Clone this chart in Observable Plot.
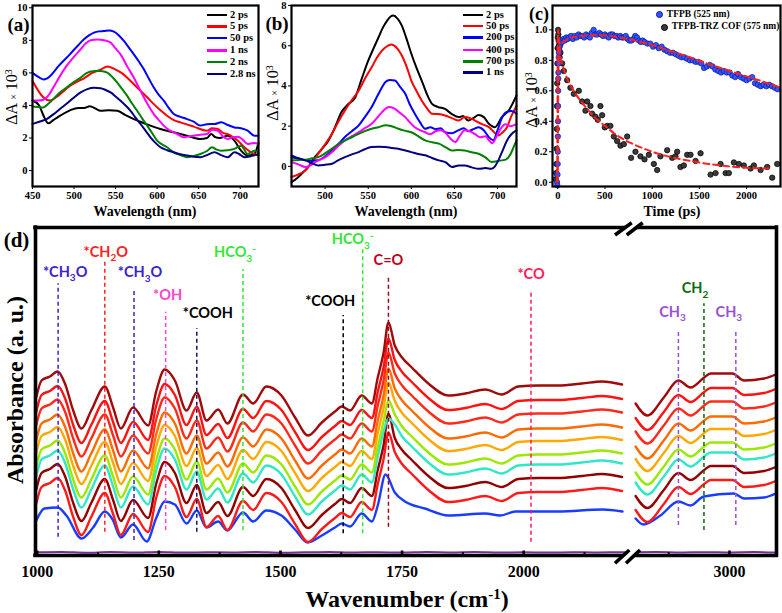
<!DOCTYPE html>
<html><head><meta charset="utf-8">
<script src="https://cdn.jsdelivr.net/npm/d3@7"></script>
<script src="https://cdn.jsdelivr.net/npm/@observablehq/plot@0.6"></script>
<style>
body{margin:0;background:#fff;}
#root{position:relative;width:782px;height:613px;overflow:hidden;background:#fff;font-family:"Liberation Serif",serif;}
.leg{position:absolute;font:bold 10.5px "Liberation Serif";white-space:nowrap;line-height:1;display:flex;align-items:center;}
.leg i{display:inline-block;width:20px;height:2.4px;margin-right:3px;}
.legc{position:absolute;font:bold 9.5px "Liberation Serif";white-space:nowrap;line-height:1;display:flex;align-items:center;}
.legc i{display:inline-block;width:5px;height:5px;border-radius:50%;margin-right:4px;}
sup{font-size:0.62em;vertical-align:0;position:relative;top:-0.55em;}
</style>
</head><body><div id="root"></div>
<script>
// ---------- Panel (a) data: [wavelength nm, ΔA×10^3]
const aNames = ["2 ps","5 ps","50 ps","1 ns","2 ns","2.8 ns"];
const aColors = ["#000000","#ff0000","#0000ff","#ff00ff","#008000","#000080"];
const a2ps = [[450,4.3],[458,4.0],[463,3.4],[469,2.9],[475,3.1],[481,3.3],[495,3.7],[505,3.85],[512,3.84],[519,3.95],[526,3.8],[532,3.67],[542,3.7],[552,3.67],[562,3.4],[572,3.16],[582,2.95],[592,2.76],[604,2.55],[620,2.35],[636,2.14],[652,1.94],[660,2.0],[665,2.24],[670,2.05],[675,2.0],[685,2.14],[693,1.84],[701,1.22],[709,0.92],[717,1.02],[722,1.7]];
const a5ps = [[450,5.5],[457,4.9],[463,4.5],[471,4.3],[481,4.6],[495,5.2],[505,5.5],[512,5.67],[522,6.0],[532,6.2],[540,6.4],[550,6.2],[557,6.0],[564,5.7],[572,5.3],[580,4.9],[588,4.5],[596,4.08],[604,3.7],[612,3.37],[620,3.1],[628,2.96],[644,2.7],[660,2.45],[666,2.6],[673,2.55],[680,2.3],[685,2.24],[697,1.84],[705,1.43],[713,1.12],[722,0.92]];
const a50ps = [[450,6.0],[457,5.75],[463,5.6],[467,5.65],[471,5.8],[481,6.4],[495,7.14],[505,7.7],[512,8.06],[518,8.3],[524,8.47],[530,8.55],[536,8.57],[542,8.6],[548,8.53],[554,8.3],[560,7.96],[566,7.55],[572,7.14],[578,6.7],[584,6.22],[590,5.65],[596,5.1],[602,4.65],[608,4.29],[614,3.85],[620,3.47],[628,3.3],[636,3.16],[644,3.0],[652,2.76],[660,2.85],[669,2.86],[677,2.96],[685,2.8],[693,2.65],[701,2.6],[709,2.45],[717,2.14],[722,2.14]];
const a1ns = [[450,4.3],[457,4.3],[463,4.35],[469,4.6],[475,5.1],[483,5.8],[491,6.43],[500,7.0],[508,7.45],[514,7.8],[520,8.0],[528,8.05],[536,8.0],[544,7.86],[550,7.5],[556,7.14],[564,6.4],[572,5.7],[578,5.1],[584,4.5],[590,3.95],[596,3.47],[602,3.1],[608,2.76],[614,2.5],[620,2.35],[626,2.2],[632,2.04],[638,2.1],[644,2.14],[652,2.2],[660,2.24],[666,2.5],[673,2.45],[679,2.1],[685,1.94],[691,2.05],[697,2.08],[703,1.9],[709,1.63],[716,1.7],[722,1.63]];
const a2ns = [[450,3.92],[457,3.9],[463,3.88],[469,4.1],[475,4.39],[483,4.8],[491,5.1],[500,5.45],[508,5.71],[514,5.95],[520,6.08],[526,6.12],[532,6.12],[540,6.02],[546,5.75],[552,5.4],[558,5.0],[564,4.59],[570,4.1],[576,3.67],[582,3.2],[588,2.76],[594,2.3],[600,1.84],[606,1.6],[612,1.43],[620,1.12],[628,0.95],[636,0.82],[644,0.9],[652,1.02],[660,1.2],[666,1.43],[671,1.3],[677,1.22],[685,1.25],[693,1.33],[701,1.53],[709,1.02],[717,1.22],[722,1.12]];
const a28ns = [[450,2.86],[458,3.0],[467,3.16],[475,3.45],[483,3.78],[491,4.1],[500,4.49],[508,4.8],[516,5.0],[524,5.08],[532,5.06],[538,4.95],[544,4.8],[550,4.55],[556,4.29],[562,4.0],[568,3.67],[574,3.25],[580,2.86],[586,2.45],[592,2.04],[598,1.7],[604,1.43],[612,1.25],[620,1.12],[628,1.0],[636,0.92],[644,0.85],[652,0.82],[660,0.95],[669,1.12],[677,0.95],[685,0.82],[693,1.12],[699,1.0],[705,0.82],[714,0.9],[722,1.02]];
const aXTicks = [450,500,550,600,650,700];
const aYTicks = [0,2,4,6,8,10];

// ---------- Panel (b) data
const bNames = ["2 ps","50 ps","200 ps","400 ps","700 ps","1 ns"];
const bColors = ["#000000","#ff0000","#0000ff","#ff00ff","#008000","#000080"];
const b2ps = [[461,-0.78],[467,-0.6],[473,-0.36],[480,-0.05],[488,0.46],[496,0.85],[504,1.29],[511,1.9],[519,2.7],[527,3.1],[535,3.44],[542,4.3],[550,5.26],[556,5.85],[562,6.42],[567,6.9],[572,7.25],[576,7.45],[579,7.5],[584,7.35],[589,7.0],[594,6.4],[600,5.6],[606,4.9],[612,4.27],[618,3.6],[624,3.11],[631,2.95],[639,2.86],[647,2.6],[655,2.45],[660,2.5],[666,2.28],[672,2.4],[678,2.55],[684,2.45],[690,2.12],[697,1.95],[705,2.45],[713,2.78],[722,3.53]];
const b50ps = [[461,-0.53],[469,-0.4],[477,-0.2],[485,0.2],[492,0.63],[500,1.1],[508,1.62],[515,2.2],[523,2.78],[531,3.3],[539,3.77],[546,4.35],[554,4.93],[560,5.4],[566,5.76],[571,5.95],[577,6.06],[583,5.9],[589,5.51],[595,4.9],[600,4.27],[606,3.75],[612,3.28],[618,2.9],[624,2.62],[631,2.6],[639,2.53],[647,2.4],[655,2.28],[662,2.45],[668,2.4],[674,2.28],[682,2.1],[690,1.95],[696,1.7],[701,1.54],[706,1.7],[711,1.95],[716,2.5],[722,3.0]];
const b200ps = [[461,0.55],[469,0.4],[477,0.3],[485,0.28],[492,0.3],[500,0.5],[508,0.8],[515,1.1],[523,1.46],[531,1.75],[539,2.04],[546,2.45],[554,2.95],[560,3.45],[566,3.94],[570,4.2],[575,4.3],[581,4.27],[587,3.95],[593,3.61],[598,3.1],[604,2.62],[610,2.2],[616,1.87],[622,1.95],[628,1.85],[634,1.9],[639,1.7],[647,1.65],[655,1.8],[661,1.9],[666,1.75],[672,1.85],[678,1.95],[684,1.8],[690,1.45],[695,1.3],[700,1.8],[705,2.4],[710,2.7],[716,2.75],[722,2.62]];
const b400ps = [[461,0.21],[469,0.1],[477,-0.03],[485,0.1],[492,0.3],[500,0.45],[508,0.71],[515,1.0],[523,1.29],[531,1.5],[539,1.7],[546,1.9],[554,2.12],[560,2.4],[566,2.7],[571,2.9],[575,2.95],[581,2.86],[587,2.65],[593,2.45],[598,2.2],[604,1.95],[610,1.8],[616,1.7],[622,1.6],[628,1.75],[634,1.8],[639,1.7],[645,1.4],[651,1.21],[656,1.5],[662,1.8],[668,1.75],[674,1.6],[680,1.45],[686,1.5],[690,1.3],[694,1.15],[699,1.5],[704,1.9],[709,2.1],[715,2.0],[722,2.1]];
const b700ps = [[461,0.3],[469,0.32],[477,0.33],[485,0.4],[492,0.46],[500,0.65],[508,0.88],[515,1.1],[523,1.29],[531,1.45],[539,1.62],[546,1.75],[554,1.87],[562,1.95],[570,2.04],[577,2.0],[585,1.87],[592,1.78],[600,1.7],[608,1.5],[616,1.29],[624,1.2],[632,1.13],[640,0.95],[647,0.79],[655,0.82],[662,0.79],[670,0.7],[678,0.63],[686,0.45],[693,0.22],[699,0.25],[705,0.3],[710,0.35],[715,0.6],[719,1.0],[722,1.29]];
const b1ns = [[461,0.46],[469,0.4],[477,0.3],[485,0.15],[492,0.05],[500,0.08],[508,0.13],[515,0.3],[523,0.46],[531,0.6],[539,0.71],[546,0.85],[554,0.96],[562,0.98],[570,0.96],[577,0.92],[585,0.88],[592,0.8],[600,0.71],[608,0.62],[616,0.55],[624,0.42],[632,0.3],[640,0.2],[647,-0.03],[655,0.05],[662,0.05],[670,-0.05],[678,-0.12],[686,-0.08],[693,-0.12],[697,0.0],[701,0.3],[706,0.8],[711,1.29],[716,1.6],[722,1.79]];
const bXTicks = [500,550,600,650,700];
const bYTicks = [0,2,4,6,8];

// ---------- Panel (c) data: [time ps, ΔA]
const cBlue = [[-8,0],[-5,-0.02],[-3,0.05],[-1,0.12],[0,0.2],[1,0.3],[2,0.4],[3,0.5],[4,0.6],[5,0.68],[6,0.72],[8,0.78],[10,0.82],[12,0.85],[15,0.87],[20,0.89],[25,0.9],[30,0.91],[40,0.92],[50,0.93],[60,0.94],[75,0.93],[90,0.95],[105,0.94],[120,0.95],[140,0.96],[160,0.94],[180,0.96],[200,0.95],[220,0.97],[240,0.96],[260,0.96],[280,0.95],[300,0.97],[320,0.96],[340,0.95],[360,0.98],[380,1.0],[400,0.97],[420,0.97],[440,0.98],[460,0.97],[480,0.96],[500,0.97],[520,0.96],[540,0.95],[560,0.97],[580,0.97],[600,0.96],[620,0.96],[640,0.95],[660,0.96],[680,0.95],[700,0.95],[720,0.96],[740,0.94],[760,0.93],[780,0.93],[800,0.94],[820,0.96],[840,0.95],[860,0.93],[880,0.92],[900,0.93],[920,0.92],[950,0.91],[980,0.91],[1010,0.89],[1040,0.9],[1070,0.88],[1100,0.89],[1130,0.87],[1160,0.86],[1190,0.85],[1220,0.85],[1250,0.84],[1280,0.83],[1310,0.82],[1340,0.82],[1370,0.81],[1400,0.8],[1430,0.8],[1460,0.79],[1490,0.79],[1520,0.78],[1550,0.75],[1580,0.76],[1610,0.77],[1640,0.76],[1670,0.74],[1700,0.73],[1730,0.72],[1760,0.73],[1790,0.72],[1820,0.72],[1850,0.7],[1880,0.69],[1910,0.71],[1940,0.69],[1970,0.68],[2000,0.67],[2030,0.68],[2060,0.69],[2090,0.65],[2120,0.64],[2150,0.63],[2180,0.64],[2210,0.63],[2240,0.64],[2270,0.63],[2300,0.62],[2330,0.61]];
const cBlack = [[-22,0.02],[-18,0.06],[-15,0.12],[-12,0.22],[-10,0.35],[-8,0.5],[-6,0.65],[-4,0.78],[-2,0.88],[0,0.95],[3,1.0],[6,0.97],[9,0.93],[12,0.9],[16,0.86],[20,0.82],[28,0.85],[46,0.78],[64,0.73],[99,0.67],[134,0.62],[170,0.58],[223,0.6],[258,0.53],[293,0.47],[311,0.53],[346,0.5],[364,0.45],[399,0.43],[424,0.41],[452,0.5],[470,0.44],[498,0.36],[523,0.37],[558,0.37],[594,0.3],[629,0.27],[664,0.24],[700,0.25],[735,0.3],[777,0.16],[823,0.2],[876,0.17],[919,0.15],[965,0.18],[1018,0.12],[1053,0.08],[1088,0.17],[1159,0.21],[1212,0.16],[1247,0.17],[1265,0.2],[1300,0.1],[1336,0.11],[1371,0.18],[1407,0.18],[1460,0.14],[1513,0.19],[1619,0.05],[1672,0.06],[1725,0.12],[1778,0.06],[1813,0.06],[1866,0.13],[1919,0.12],[1972,0.11],[2043,0.09],[2078,0.11],[2149,0.08],[2219,0.1],[2272,0.03],[2325,0.12]];
const cFitBlueT = [-6,0,3,6,10,20,40,80,150,250,400,550,700,850,1000,1200,1400,1600,1800,2000,2200,2340];
const cFitBlueV = [0,0.1,0.45,0.7,0.82,0.88,0.91,0.93,0.95,0.96,0.965,0.96,0.945,0.925,0.9,0.86,0.82,0.775,0.735,0.695,0.655,0.625];
const cFitBlackT = [-6,-3,0,5,15,30,60,100,150,200,300,400,500,600,700,800,1000,1200,1400,1600,1800,2000,2250];
const cFitBlackV = [0,0.5,0.95,1.0,0.9,0.82,0.75,0.68,0.62,0.57,0.49,0.42,0.37,0.32,0.28,0.25,0.2,0.165,0.14,0.12,0.105,0.095,0.09];
const cXTicks = [0,500,1000,1500,2000];
const cYTicks = [0,0.2,0.4,0.6,0.8,1.0];

// ---------- Panel (d) data: wavenumber (cm-1), absorbance (a.u.)
const dWn  = [998,1009,1026,1042,1057,1074,1091,1111,1139,1156,1172,1197,1228,1245,1262,1283,1307,1328,1348,1372,1391,1423,1444,1471,1502,1530,1557,1585,1612,1626,1643,1667,1688,1700,1712,1722,1735,1750,1770,1804,1845,1880,1921,1955,1989,2030,2071,2120,2161,2202];
const dTop = [160,177,181,186,174,147,129,147,171,150,129,150,132,167,188,177,147,165,137,148,134,163,154,171,162,140,122,135,146,151,147,162,154,180,205,235,212,200,190,174,162,164,168,163,171,172,172,174,176,173];
const dRWn  = [2807,2831,2865,2895,2920,2948,2961,3006,3030,3071,3095];
const dRTop = [154,142,160,177,170,180,184,184,177,179,183];
const dOffset = [0,14.5,28,43,55.5,69,79,92.5,106.5];
const dCoPeak = [235,219,205,189,175,157,139,144,125];
const dColors = ["#a00a0a","#ff1212","#ff2a1a","#ff6a00","#ffa800","#9be800","#30e8c8","#940000","#ff1a1a"];
const dBlueL = [[998,37],[1015,49],[1042,50],[1060,42],[1091,19],[1115,30],[1139,46],[1155,38],[1172,20],[1197,33],[1225,16],[1245,40],[1262,56],[1283,53],[1307,34],[1328,47],[1348,30],[1372,36],[1391,27],[1423,45],[1444,36],[1471,47],[1502,42],[1530,28],[1556,15],[1585,22],[1612,30],[1626,34],[1643,31],[1667,44],[1688,36],[1700,52],[1716,83],[1735,65],[1756,56],[1797,49],[1845,42],[1921,44],[1952,42],[1983,46],[2071,46],[2162,48],[2203,46]];
const dBlueR = [[2807,39],[2823,33],[2858,42],[2895,56],[2920,52],[2947,61],[3009,64],[3030,59],[3071,60],[3095,64]];
const dBlueColor = "#1a3cff";
const dPurpleL = [[998,5.2],[1050,5.6],[1100,4.8],[1150,5.4],[1200,5.0],[1250,5.6],[1300,4.9],[1350,5.3],[1400,5.1],[1450,5.5],[1500,4.8],[1550,5.2],[1600,5.6],[1650,5.0],[1700,5.3],[1750,4.9],[1800,5.4],[1850,5.1],[1900,5.5],[1950,5.0],[2000,5.2],[2050,4.9],[2100,5.3],[2150,5.1],[2215,5.2]];
const dPurpleR = [[2793,5.1],[2850,5.4],[2900,5.0],[2950,5.3],[3000,5.1],[3050,5.4],[3097,5.0]];
const dMajorL = [1000,1250,1500,1750,2000];
const dMinorL = [1125,1375,1625,1875,2125];
const dMajorR = [3000];
const dMinorR = [2875];
const annText  = ["*CH_3O","*CH_2O","*CH_3O","*OH","*COOH","HCO_3^-","*COOH","HCO_3^-","C=O","*CO"];
const annWn    = [1043,1139,1199,1264,1328,1423,1629,1669,1722,2015];
const annTop   = [273.7,295.3,269,245.3,229,288,242,309,282,267];
const annBot   = [20.3,25.3,17,27,25.3,27,23.7,23.7,30.3,15.3];
const annLabY  = [285.3,305.3,285,262,244,305,256,317.7,297,282.7];
const annDx    = [7,1,6,2,11,-8,-13,-10,0,0];
const annColor = ["#3b22cc","#ff2020","#3b22cc","#ff44cc","#000000","#33e633","#000000","#33e633","#c0001a","#ff1a5e"];
const annLine  = ["#3b22cc","#ff2020","#3b22cc","#ff44cc","#14145a","#33e633","#000000","#33e633","#a0001a","#ff1a5e"];
const annRText  = ["CH_3","CH_2","CH_3"];
const annRWn    = [2895,2947.5,3013];
const annRTop   = [227,253.7,227];
const annRBot   = [32,27,32];
const annRLabY  = [245.3,268.7,245.3];
const annRDx    = [-6,-9,-7];
const annRColor = ["#9b4fd6","#0b6b0b","#9b4fd6"];

// ---------- helpers
const root = document.getElementById("root");
function put(el, x, y){ el.style.position="absolute"; el.style.left=x+"px"; el.style.top=y+"px"; root.appendChild(el); return el; }
function label(html, cx, cy, css, rot){
  const d=document.createElement("div"); d.innerHTML=html;
  d.style.cssText=`position:absolute;left:${cx}px;top:${cy}px;white-space:nowrap;line-height:1;transform:translate(-50%,-50%)${rot?" rotate(-90deg)":""};${css}`;
  root.appendChild(d);
}
const smallStyle = {fontFamily:"Liberation Serif", fontWeight:"bold", fontSize:"10.5px", background:"transparent", overflow:"visible", color:"#000"};

function spectrumPanel(series, colors, xd, yd, xt, yt, ml, mr, yfmt){
  return Plot.plot({
    width:262, height:220, marginLeft:ml, marginRight:mr, marginTop:5, marginBottom:34,
    x:{domain:xd}, y:{domain:yd},
    style: smallStyle,
    marks:[
      ...series.map((s,i)=>Plot.line(s,{x:d=>d[0], y:d=>d[1], stroke:colors[i], strokeWidth:2, curve:"monotone-x"})),
      Plot.frame({stroke:"#000", strokeWidth:2.2}),
      Plot.axisX({ticks:xt, tickSize:3, tickPadding:2, label:null}),
      Plot.axisY({ticks:yt, tickSize:3, tickPadding:2, label:null, tickFormat:yfmt})
    ]
  });
}

// Panel a
put(spectrumPanel([a2ps,a5ps,a50ps,a1ns,a2ns,a28ns], aColors, [450,722], [-0.98,10.14], aXTicks, aYTicks, 32, 4), 0, 0);
// Panel b
put(spectrumPanel([b2ps,b50ps,b200ps,b400ps,b700ps,b1ns], bColors, [461,722], [-1,8], bXTicks, bYTicks, 33, 4), 258, 0);
// Panel c
const pc = Plot.plot({
  width:262, height:220, marginLeft:32, marginRight:2, marginTop:5, marginBottom:34,
  x:{domain:[-56,2360]}, y:{domain:[-0.028,1.16]},
  style: smallStyle,
  marks:[
    Plot.dot(cBlack,{x:d=>d[0], y:d=>d[1], r:2.7, fill:"#3a3a3a", stroke:"#000", strokeWidth:0.7}),
    Plot.dot(cBlue,{x:d=>d[0], y:d=>d[1], r:2.7, fill:"#3355ff", stroke:"#0a1a9a", strokeWidth:0.7}),
    Plot.line(cFitBlackT.map((t,i)=>[t,cFitBlackV[i]]),{x:d=>d[0], y:d=>d[1], stroke:"#ff2020", strokeWidth:2, strokeDasharray:"6,4", curve:"monotone-x"}),
    Plot.line(cFitBlueT.map((t,i)=>[t,cFitBlueV[i]]),{x:d=>d[0], y:d=>d[1], stroke:"#ff2020", strokeWidth:2, strokeDasharray:"6,4", curve:"monotone-x"}),
    Plot.frame({stroke:"#000", strokeWidth:2.2}),
    Plot.axisX({ticks:cXTicks, tickSize:3, tickPadding:2, label:null, tickFormat:d3.format("d")}),
    Plot.axisY({ticks:cYTicks, tickSize:3, tickPadding:2, label:null, tickFormat:d3.format(".1f")})
  ]
});
put(pc, 520, 0);

// Panel d (broken axis: two plots)
const dStyle = {fontFamily:"Liberation Serif", fontWeight:"bold", fontSize:"16px", background:"transparent", overflow:"visible", color:"#000"};
function annMarks(texts, wns, tops, bots, labYs, dxs, colors, lineColors){
  const m=[];
  texts.forEach((t,i)=>{
    m.push(Plot.ruleX([wns[i]],{x:d=>d, y1:bots[i], y2:tops[i], stroke:lineColors[i], strokeWidth:1.5, strokeDasharray:"4,3"}));
    m.push(Plot.text([t],{x:()=>wns[i], y:()=>labYs[i], text:d=>d, dx:dxs[i], fill:colors[i], fontFamily:"Lato", fontWeight:"bold", fontSize:14.5, className:"ann"}));
  });
  return m;
}
function curvesL(){
  const m=[Plot.line(dBlueL,{x:d=>d[0], y:d=>d[1], stroke:dBlueColor, strokeWidth:2.4, curve:"monotone-x"})];
  for(let i=dOffset.length-1;i>=0;i--){
    const pts = dWn.map((w,k)=>[w, k===35 ? dCoPeak[i] : dTop[k]-dOffset[i]]);
    m.push(Plot.line(pts,{x:d=>d[0], y:d=>d[1], stroke:dColors[i], strokeWidth:2.4, curve:"monotone-x"}));
  }
  return m;
}
function curvesR(){
  const m=[Plot.line(dBlueR,{x:d=>d[0], y:d=>d[1], stroke:dBlueColor, strokeWidth:2.4, curve:"monotone-x"})];
  for(let i=dOffset.length-1;i>=0;i--){
    const pts = dRWn.map((w,k)=>[w, dRTop[k]-dOffset[i]]);
    m.push(Plot.line(pts,{x:d=>d[0], y:d=>d[1], stroke:dColors[i], strokeWidth:2.4, curve:"monotone-x"}));
  }
  return m;
}
const pdL = Plot.plot({
  width:628, height:370, marginLeft:35, marginRight:0, marginTop:7, marginBottom:35,
  x:{domain:[996.5,2215.4]}, y:{domain:[2,330], axis:null},
  style:dStyle,
  marks:[
    Plot.line(dPurpleL,{x:d=>d[0], y:d=>d[1], stroke:"#7a2a9a", strokeWidth:2, curve:"monotone-x"}),
    ...curvesL(),
    ...annMarks(annText, annWn, annTop, annBot, annLabY, annDx, annColor, annLine),
    Plot.ruleX(dMajorL,{x:d=>d, y1:2, y2:6.5, strokeWidth:2.6}),
    Plot.ruleX(dMinorL,{x:d=>d, y1:2, y2:4.8, strokeWidth:2}),
    Plot.ruleY([2,330],{y:d=>d, stroke:"#000", strokeWidth:3.6, strokeLinecap:"square"}),
    Plot.ruleX([996.5],{x:d=>d, y1:2, y2:330, stroke:"#000", strokeWidth:3.6, strokeLinecap:"square"}),
    Plot.axisX({ticks:dMajorL, tickSize:0, tickPadding:10, label:null, tickFormat:d3.format("d")})
  ]
});
put(pdL, 0, 220);
const pdR = Plot.plot({
  width:150, height:370, marginLeft:0, marginRight:2, marginTop:7, marginBottom:35,
  x:{domain:[2792.4,3096.6]}, y:{domain:[2,330], axis:null},
  style:dStyle,
  marks:[
    Plot.line(dPurpleR,{x:d=>d[0], y:d=>d[1], stroke:"#7a2a9a", strokeWidth:2, curve:"monotone-x"}),
    ...curvesR(),
    ...annMarks(annRText, annRWn, annRTop, annRBot, annRLabY, annRDx, annRColor, annRColor),
    Plot.ruleX(dMajorR,{x:d=>d, y1:2, y2:6.5, strokeWidth:2.6}),
    Plot.ruleX(dMinorR,{x:d=>d, y1:2, y2:4.8, strokeWidth:2}),
    Plot.ruleY([2,330],{y:d=>d, stroke:"#000", strokeWidth:3.6, strokeLinecap:"square"}),
    Plot.ruleX([3096.6],{x:d=>d, y1:2, y2:330, stroke:"#000", strokeWidth:3.6, strokeLinecap:"square"}),
    Plot.axisX({ticks:dMajorR, tickSize:0, tickPadding:10, label:null, tickFormat:d3.format("d")})
  ]
});
put(pdR, 628, 220);

// sub/superscripts in annotation labels
function richify(svg){
  d3.select(svg).selectAll("g.ann text").each(function(){
    const s=this.textContent; const t=d3.select(this); t.text("");
    const parts=[]; let buf="";
    for(let k=0;k<s.length;k++){
      const ch=s[k];
      if((ch==="_"||ch==="^") && k+1<s.length){ if(buf){parts.push({t:buf,m:0});buf="";} parts.push({t:s[k+1],m:ch==="_"?1:-1}); k++; }
      else buf+=ch;
    }
    if(buf) parts.push({t:buf,m:0});
    let cur=0;
    for(const p of parts){
      const target = p.m===1?4.5:(p.m===-1?-5:0);
      const ts=t.append("tspan").text(p.t).attr("dy",target-cur);
      if(p.m!==0) ts.attr("font-size","10px");
      cur=target;
    }
  });
}
richify(pdL); richify(pdR);

// axis break marks
const ov = d3.select(root).append("svg").attr("width",782).attr("height",613)
  .style("position","absolute").style("left","0px").style("top","0px").style("pointer-events","none");
[[235,222.7,615,631.7,626.7,642.7],[563.3,550,615,629.3,626,640]].forEach(([yb,yt,x1a,x1b,x2a,x2b])=>{
  ov.append("polygon").attr("points",`${x1a+2},${yb} ${x1b+2},${yt} ${x2b-2},${yt} ${x2a-2},${yb}`).attr("fill","#fff");
  ov.append("line").attr("x1",x1a).attr("y1",yb).attr("x2",x1b).attr("y2",yt).attr("stroke","#000").attr("stroke-width",3.6);
  ov.append("line").attr("x1",x2a).attr("y1",yb).attr("x2",x2b).attr("y2",yt).attr("stroke","#000").attr("stroke-width",3.6);
});

// text labels
const pl = "font:bold 19px 'Liberation Serif';";
label("(a)",18.5,25,pl); label("(b)",277,24,pl); label("(c)",539,13.5,"font:bold 18px 'Liberation Serif';"); label("(d)",16.5,240,"font:bold 21px 'Liberation Serif';");
const yl = "font:16px 'Liberation Serif';";
const dA = "ΔA <span style='font-size:10px'>×</span> 10<sup>3</sup>";
label(dA,12,97,yl,true); label(dA,273,93,yl,true); label(dA,532,100,yl,true);
const xl = "font:bold 14px 'Liberation Serif';";
label("Wavelength (nm)",145,212,xl); label("Wavelength (nm)",406,212,xl); label("Time (ps)",672,212,xl);
label("Wavenumber (cm<sup>-1</sup>)",407,599,"font:bold 24px 'Liberation Serif';");
label("Absorbance (a. u.)",15,390,"font:bold 24px 'Liberation Serif';",true);

// legends
const aRows=[15,26.7,38.3,50.7,62.3,74];
aNames.forEach((n,i)=>{ const d=document.createElement("div"); d.className="leg"; d.innerHTML=`<i style="background:${aColors[i]}"></i>${n}`; put(d,207,aRows[i]-5.5); });
const bRows=[15,26,37.7,50,61.7,72.7];
bNames.forEach((n,i)=>{ const d=document.createElement("div"); d.className="leg"; d.innerHTML=`<i style="background:${bColors[i]}"></i>${n}`; put(d,463,bRows[i]-5.5); });
const cNames=["TFPB (525 nm)","TFPB-TRZ COF (575 nm)"], cCols=["#3355ff","#3a3a3a"], cStroke=["#0a1a9a","#000"];
[[655.8,15],[660.8,27.3]].forEach(([x,y],i)=>{ const d=document.createElement("div"); d.className="legc"; d.innerHTML=`<i style="background:${cCols[i]};border:0.7px solid ${cStroke[i]}"></i>${cNames[i]}`; put(d,x,y-5); });
</script>
</body></html>
